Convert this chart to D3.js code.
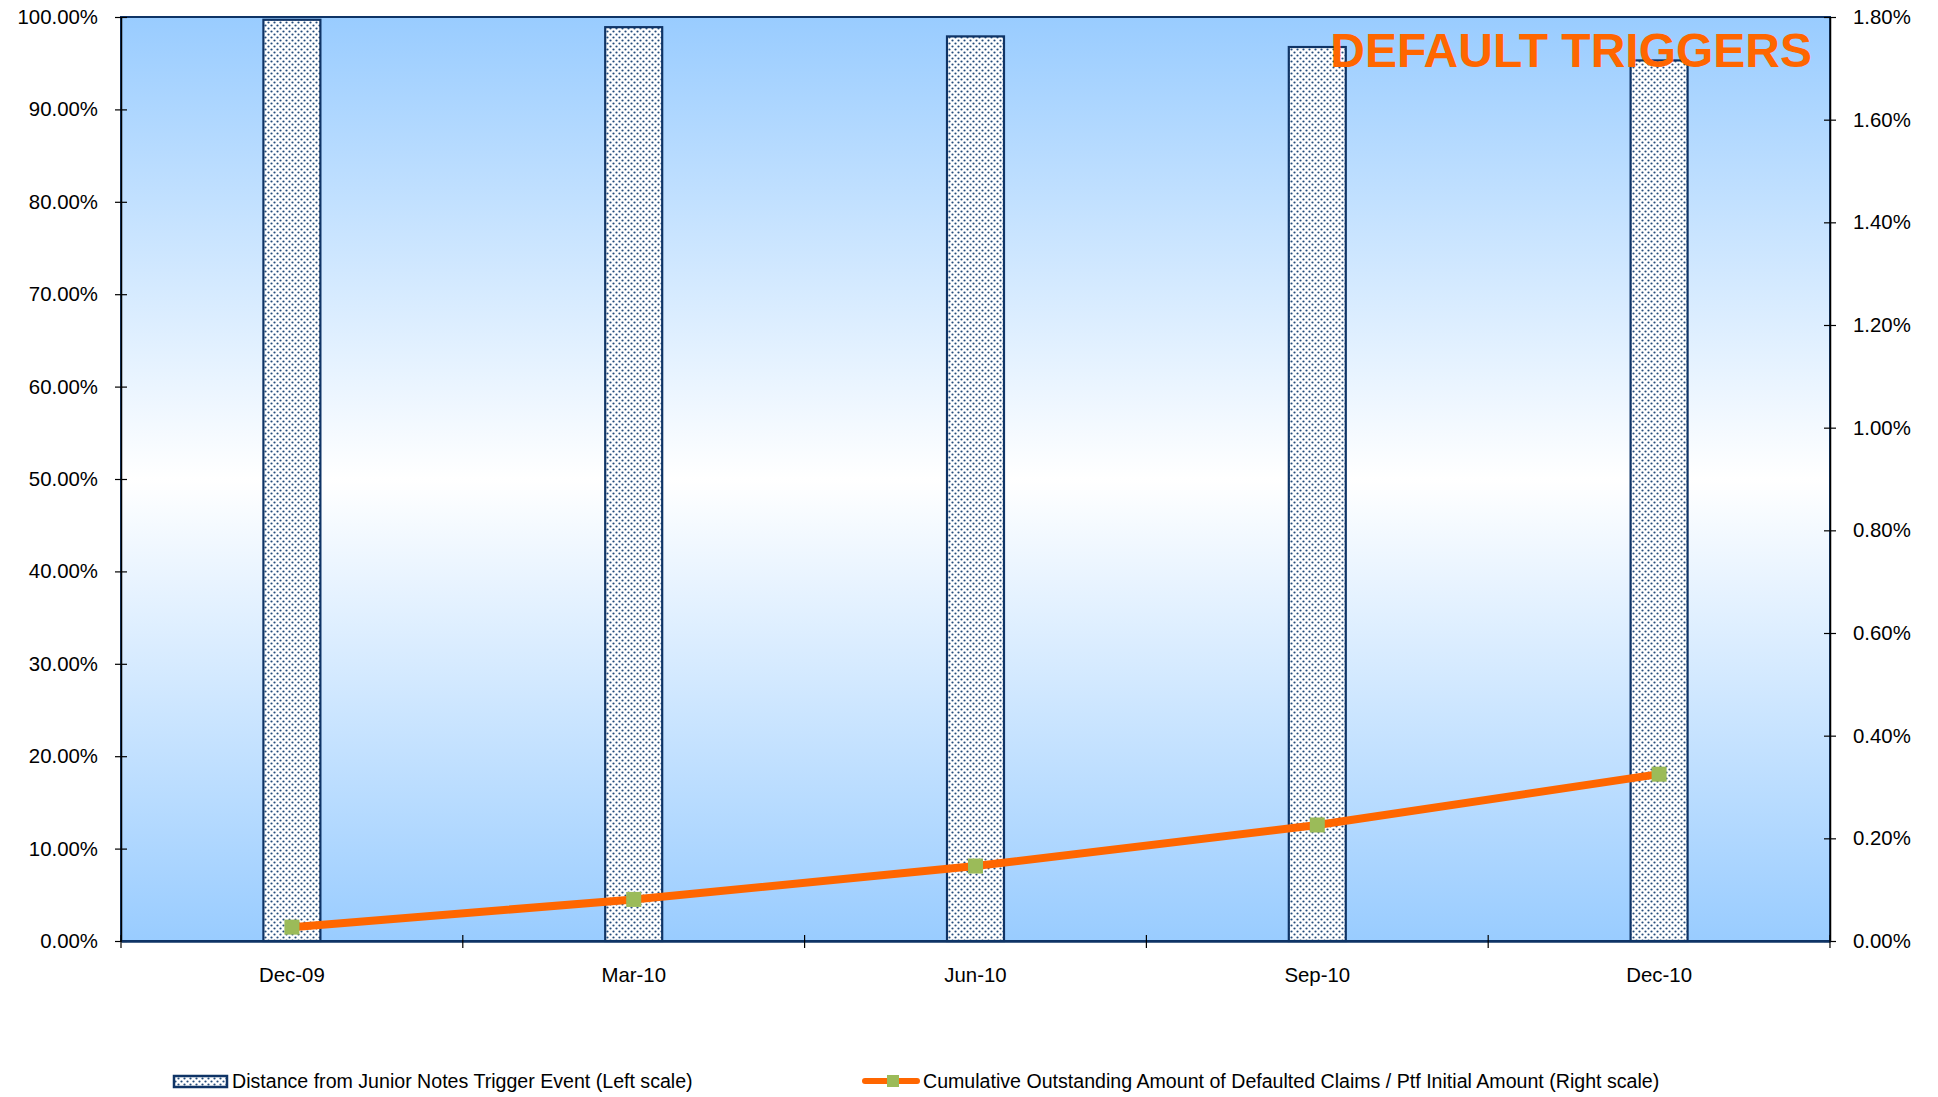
<!DOCTYPE html>
<html>
<head>
<meta charset="utf-8">
<script src="https://cdn.jsdelivr.net/npm/d3@7"></script>
<style>
  body { margin: 0; background: #fff; }
  svg { display: block; font-family: Arial, "Liberation Sans", sans-serif; }
</style>
</head>
<body>
<svg id="chart" width="1938" height="1097"></svg>
<script>
// chart data
const quarters = ['Dec-09', 'Mar-10', 'Jun-10', 'Sep-10', 'Dec-10']
const distanceJunior = [99.7, 98.9, 97.9, 96.75, 95.3] // left scale, %
const cumDefaulted = [0.027, 0.081, 0.146, 0.226, 0.325] // right scale, %
const leftTicks = [0, 10, 20, 30, 40, 50, 60, 70, 80, 90, 100]
const rightTicks = [0, 0.2, 0.4, 0.6, 0.8, 1.0, 1.2, 1.4, 1.6, 1.8]
const barLabel = 'Distance from Junior Notes Trigger Event (Left scale)'
const lineLabel = 'Cumulative Outstanding Amount of Defaulted Claims / Ptf Initial Amount (Right scale)'
const title = 'DEFAULT TRIGGERS'

const plot = { left: 121, right: 1830, top: 17, bottom: 941 }
const navy = '#0f3466'
const orange = '#ff6600'
const green = '#9bbb59'

const svg = d3.select('#chart')
const defs = svg.append('defs')

// background gradient of plot area
const grad = defs.append('linearGradient')
  .attr('id', 'bg')
  .attr('x1', 0).attr('y1', 0).attr('x2', 0).attr('y2', 1)
grad.append('stop').attr('offset', '0%').attr('stop-color', '#99ccff')
grad.append('stop').attr('offset', '50%').attr('stop-color', '#ffffff')
grad.append('stop').attr('offset', '100%').attr('stop-color', '#99ccff')

// dotted fill for the bars
const pat = defs.append('pattern')
  .attr('id', 'dots')
  .attr('patternUnits', 'userSpaceOnUse')
  .attr('width', 6).attr('height', 6)
pat.append('rect').attr('width', 6).attr('height', 6).attr('fill', '#ffffff')
pat.append('circle').attr('cx', 1.5).attr('cy', 1.5).attr('r', 1.1).attr('fill', '#244c7c')
pat.append('circle').attr('cx', 4.5).attr('cy', 4.5).attr('r', 1.1).attr('fill', '#244c7c')

const x = d3.scaleBand()
  .domain(quarters)
  .range([plot.left, plot.right])
  .paddingInner(0.8333)
  .paddingOuter(0.41667)
const yLeft = d3.scaleLinear().domain([0, 100]).range([plot.bottom, plot.top])
const yRight = d3.scaleLinear().domain([0, 1.8]).range([plot.bottom, plot.top])

svg.append('rect')
  .attr('x', plot.left)
  .attr('y', plot.top)
  .attr('width', plot.right - plot.left)
  .attr('height', plot.bottom - plot.top)
  .attr('fill', 'url(#bg)')

// bars
svg.append('g')
  .selectAll('rect')
  .data(distanceJunior)
  .join('rect')
  .attr('x', (d, i) => x(quarters[i]))
  .attr('y', d => yLeft(d))
  .attr('width', x.bandwidth())
  .attr('height', d => yLeft(0) - yLeft(d))
  .attr('fill', 'url(#dots)')
  .attr('stroke', navy)
  .attr('stroke-width', 2.2)

// plot frame
svg.append('rect')
  .attr('x', plot.left)
  .attr('y', plot.top)
  .attr('width', plot.right - plot.left)
  .attr('height', plot.bottom - plot.top)
  .attr('fill', 'none')
  .attr('stroke', navy)
  .attr('stroke-width', 2)

// axes
const fmt = d3.format('.2f')
const leftAxis = d3.axisLeft(yLeft)
  .tickValues(leftTicks)
  .tickFormat(d => fmt(d) + '%')
  .tickSizeInner(6)
  .tickSizeOuter(0)
  .tickPadding(17)
const gl = svg.append('g')
  .attr('transform', `translate(${plot.left},0)`)
  .call(leftAxis)
gl.selectAll('.tick line').attr('x2', -6).attr('x1', 6)

const rightAxis = d3.axisRight(yRight)
  .tickValues(rightTicks)
  .tickFormat(d => fmt(d) + '%')
  .tickSizeInner(6)
  .tickSizeOuter(0)
  .tickPadding(17)
const gr = svg.append('g')
  .attr('transform', `translate(${plot.right},0)`)
  .call(rightAxis)
gr.selectAll('.tick line').attr('x1', -6).attr('x2', 6)

const xAxis = d3.axisBottom(x)
  .tickSize(0)
  .tickPadding(27)
const gx = svg.append('g')
  .attr('transform', `translate(0,${plot.bottom})`)
  .call(xAxis)

// category boundary ticks
const step = x.step()
const bounds = d3.range(quarters.length + 1).map(i => plot.left + i * step)
svg.append('g')
  .selectAll('line')
  .data(bounds)
  .join('line')
  .attr('x1', d => d).attr('x2', d => d)
  .attr('y1', plot.bottom - 6).attr('y2', plot.bottom + 7)
  .attr('stroke', '#000')
  .attr('stroke-width', 1.2)

;[gl, gr, gx].forEach(g => {
  g.select('.domain').attr('stroke', '#000').attr('stroke-width', 1.5)
  g.selectAll('.tick line').attr('stroke', '#000').attr('stroke-width', 1.2)
  g.selectAll('text')
    .attr('font-size', 20.4)
    .attr('font-family', 'Arial, "Liberation Sans", sans-serif')
    .attr('fill', '#000')
})
gx.select('.domain').attr('stroke', navy).attr('stroke-width', 2.5)

// line series on right scale
const pts = cumDefaulted.map((d, i) => [x(quarters[i]) + x.bandwidth() / 2, yRight(d)])
svg.append('path')
  .datum(pts)
  .attr('d', d3.line())
  .attr('fill', 'none')
  .attr('stroke', orange)
  .attr('stroke-width', 8)
  .attr('stroke-linejoin', 'round')
svg.append('g')
  .selectAll('rect')
  .data(pts)
  .join('rect')
  .attr('x', d => d[0] - 7.5)
  .attr('y', d => d[1] - 7.5)
  .attr('width', 15)
  .attr('height', 15)
  .attr('fill', green)

// title
svg.append('text')
  .attr('x', 1812)
  .attr('y', 67)
  .attr('text-anchor', 'end')
  .attr('font-size', 48)
  .attr('font-weight', 'bold')
  .attr('fill', orange)
  .text(title)

// legend
const leg = svg.append('g').attr('font-size', 19.6).attr('fill', '#000')
leg.append('rect')
  .attr('x', 174).attr('y', 1076)
  .attr('width', 53).attr('height', 11)
  .attr('fill', 'url(#dots)')
  .attr('stroke', navy)
  .attr('stroke-width', 2.5)
leg.append('text')
  .attr('x', 232).attr('y', 1088)
  .text(barLabel)
leg.append('line')
  .attr('x1', 865).attr('x2', 917)
  .attr('y1', 1081).attr('y2', 1081)
  .attr('stroke', orange)
  .attr('stroke-width', 6)
  .attr('stroke-linecap', 'round')
leg.append('rect')
  .attr('x', 887).attr('y', 1075)
  .attr('width', 12).attr('height', 12)
  .attr('fill', green)
leg.append('text')
  .attr('x', 923).attr('y', 1088)
  .text(lineLabel)
</script>
</body>
</html>
